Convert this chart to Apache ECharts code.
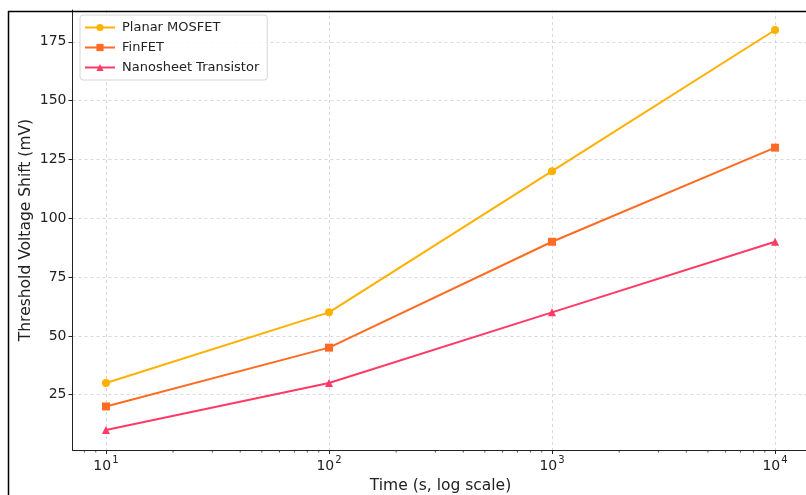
<!DOCTYPE html>
<html>
<head>
<meta charset="utf-8">
<script src="https://cdn.jsdelivr.net/npm/echarts@6/dist/echarts.min.js"></script>
<style>
html,body{margin:0;padding:0;background:#fff;overflow:hidden;}
#chart{width:806px;height:495px;}
</style>
</head>
<body>
<div id="chart"></div>
<script>
const times = [10, 100, 1000, 10000];
const planar = [30, 60, 120, 180];
const finfet = [20, 45, 90, 130];
const nanosheet = [10, 30, 60, 90];
const seriesNames = ['Planar MOSFET', 'FinFET', 'Nanosheet Transistor'];
const xTicks = [10, 100, 1000, 10000];
const xTickBase = ['10', '10', '10', '10'];
const xTickExp = ['1', '2', '3', '4'];
const xMinorTicks = [8, 9, 20, 30, 40, 50, 60, 70, 80, 90, 200, 300, 400, 500, 600, 700, 800, 900, 2000, 3000, 4000, 5000, 6000, 7000, 8000, 9000];
const yTicks = [25, 50, 75, 100, 125, 150, 175];
const colors = ['#FFB000', '#FF6B22', '#FF3A65'];

const FONT = 'DejaVu Sans';
const X_MIN = 7.0795, X_MAX = 14125, Y_MIN = 1.5, Y_MAX = 188.5;

function pairs(ys) { return times.map((t, i) => [t, ys[i]]); }

const chart = echarts.init(document.getElementById('chart'));
chart.setOption({
  animation: false,
  backgroundColor: '#fff',
  textStyle: { fontFamily: FONT },
  grid: { left: 72.5, top: 10, width: 736, height: 440, containLabel: false, outerBoundsMode: 'none' },
  legend: {
    data: seriesNames,
    orient: 'vertical',
    left: 80, top: 15,
    itemWidth: 30, itemHeight: 9,
    itemGap: 7,
    padding: [6, 8, 6, 4],
    borderColor: '#d6d6d6', borderWidth: 1, borderRadius: 3,
    backgroundColor: 'rgba(255,255,255,0.85)',
    textStyle: { fontFamily: FONT, fontSize: 13, color: '#222', padding: [0, 0, 0, 2] }
  },
  xAxis: {
    type: 'log', logBase: 10, min: X_MIN, max: X_MAX,
    name: 'Time (s, log scale)', nameLocation: 'middle', nameGap: 26,
    nameTextStyle: { fontFamily: FONT, fontSize: 15.5, color: '#222' },
    axisLine: { onZero: false, lineStyle: { color: '#222', width: 1 } },
    axisTick: { customValues: xTicks, length: 4, lineStyle: { color: '#222' } },
    axisLabel: {
      customValues: xTicks,
      fontFamily: FONT, fontSize: 14, color: '#222', margin: 5,
      formatter: v => {
        const i = xTicks.indexOf(Math.round(v));
        return i < 0 ? '' : '{b|' + xTickBase[i] + '}{s|' + xTickExp[i] + '}';
      },
      rich: {
        b: { fontFamily: FONT, fontSize: 14, color: '#222', lineHeight: 18, verticalAlign: 'bottom' },
        s: { fontFamily: FONT, fontSize: 10, color: '#222', lineHeight: 18, verticalAlign: 'top', padding: [0, 0, 6, 1] }
      }
    },
    splitLine: { show: true, lineStyle: { color: '#d0d0d0', type: [3, 3], width: 0.8 } }
  },
  yAxis: {
    type: 'value', min: Y_MIN, max: Y_MAX,
    name: 'Threshold Voltage Shift (mV)', nameLocation: 'middle', nameGap: 39,
    nameMoveOverlap: false,
    nameTextStyle: { fontFamily: FONT, fontSize: 15.5, color: '#222' },
    axisLine: { show: true, lineStyle: { color: '#222', width: 1 } },
    axisTick: { show: true, customValues: yTicks, length: 4, lineStyle: { color: '#222' } },
    axisLabel: { customValues: yTicks, fontFamily: FONT, fontSize: 14, color: '#222', margin: 6 },
    splitLine: { show: true, lineStyle: { color: '#d0d0d0', type: [3, 3], width: 0.8 } }
  },
  series: [
    {
      name: seriesNames[0], type: 'line', data: pairs(planar),
      color: colors[0], symbol: 'circle', symbolSize: 8,
      lineStyle: { width: 2 }, itemStyle: { color: colors[0] }
    },
    {
      name: seriesNames[1], type: 'line', data: pairs(finfet),
      color: colors[1], symbol: 'rect', symbolSize: 8,
      lineStyle: { width: 2 }, itemStyle: { color: colors[1] }
    },
    {
      name: seriesNames[2], type: 'line', data: pairs(nanosheet),
      color: colors[2], symbol: 'triangle', symbolSize: 8,
      lineStyle: { width: 2 }, itemStyle: { color: colors[2] }
    },
    {
      name: 'minorTicks', type: 'custom', silent: true, clip: false, z: 5,
      data: xMinorTicks.map(v => [v, Y_MIN]),
      renderItem: (params, api) => {
        const p = api.coord([api.value(0), api.value(1)]);
        return { type: 'line', shape: { x1: p[0], y1: p[1], x2: p[0], y2: p[1] + 2.5 }, style: { stroke: '#222', lineWidth: 0.8 } };
      }
    }
  ],
  graphic: [
    { type: 'line', shape: { x1: 8, y1: 11.5, x2: 806, y2: 11.5 }, style: { stroke: '#000', lineWidth: 1.5 }, z: 100 },
    { type: 'line', shape: { x1: 8.5, y1: 11, x2: 8.5, y2: 495 }, style: { stroke: '#000', lineWidth: 1.5 }, z: 100 }
  ]
});
</script>
</body>
</html>
